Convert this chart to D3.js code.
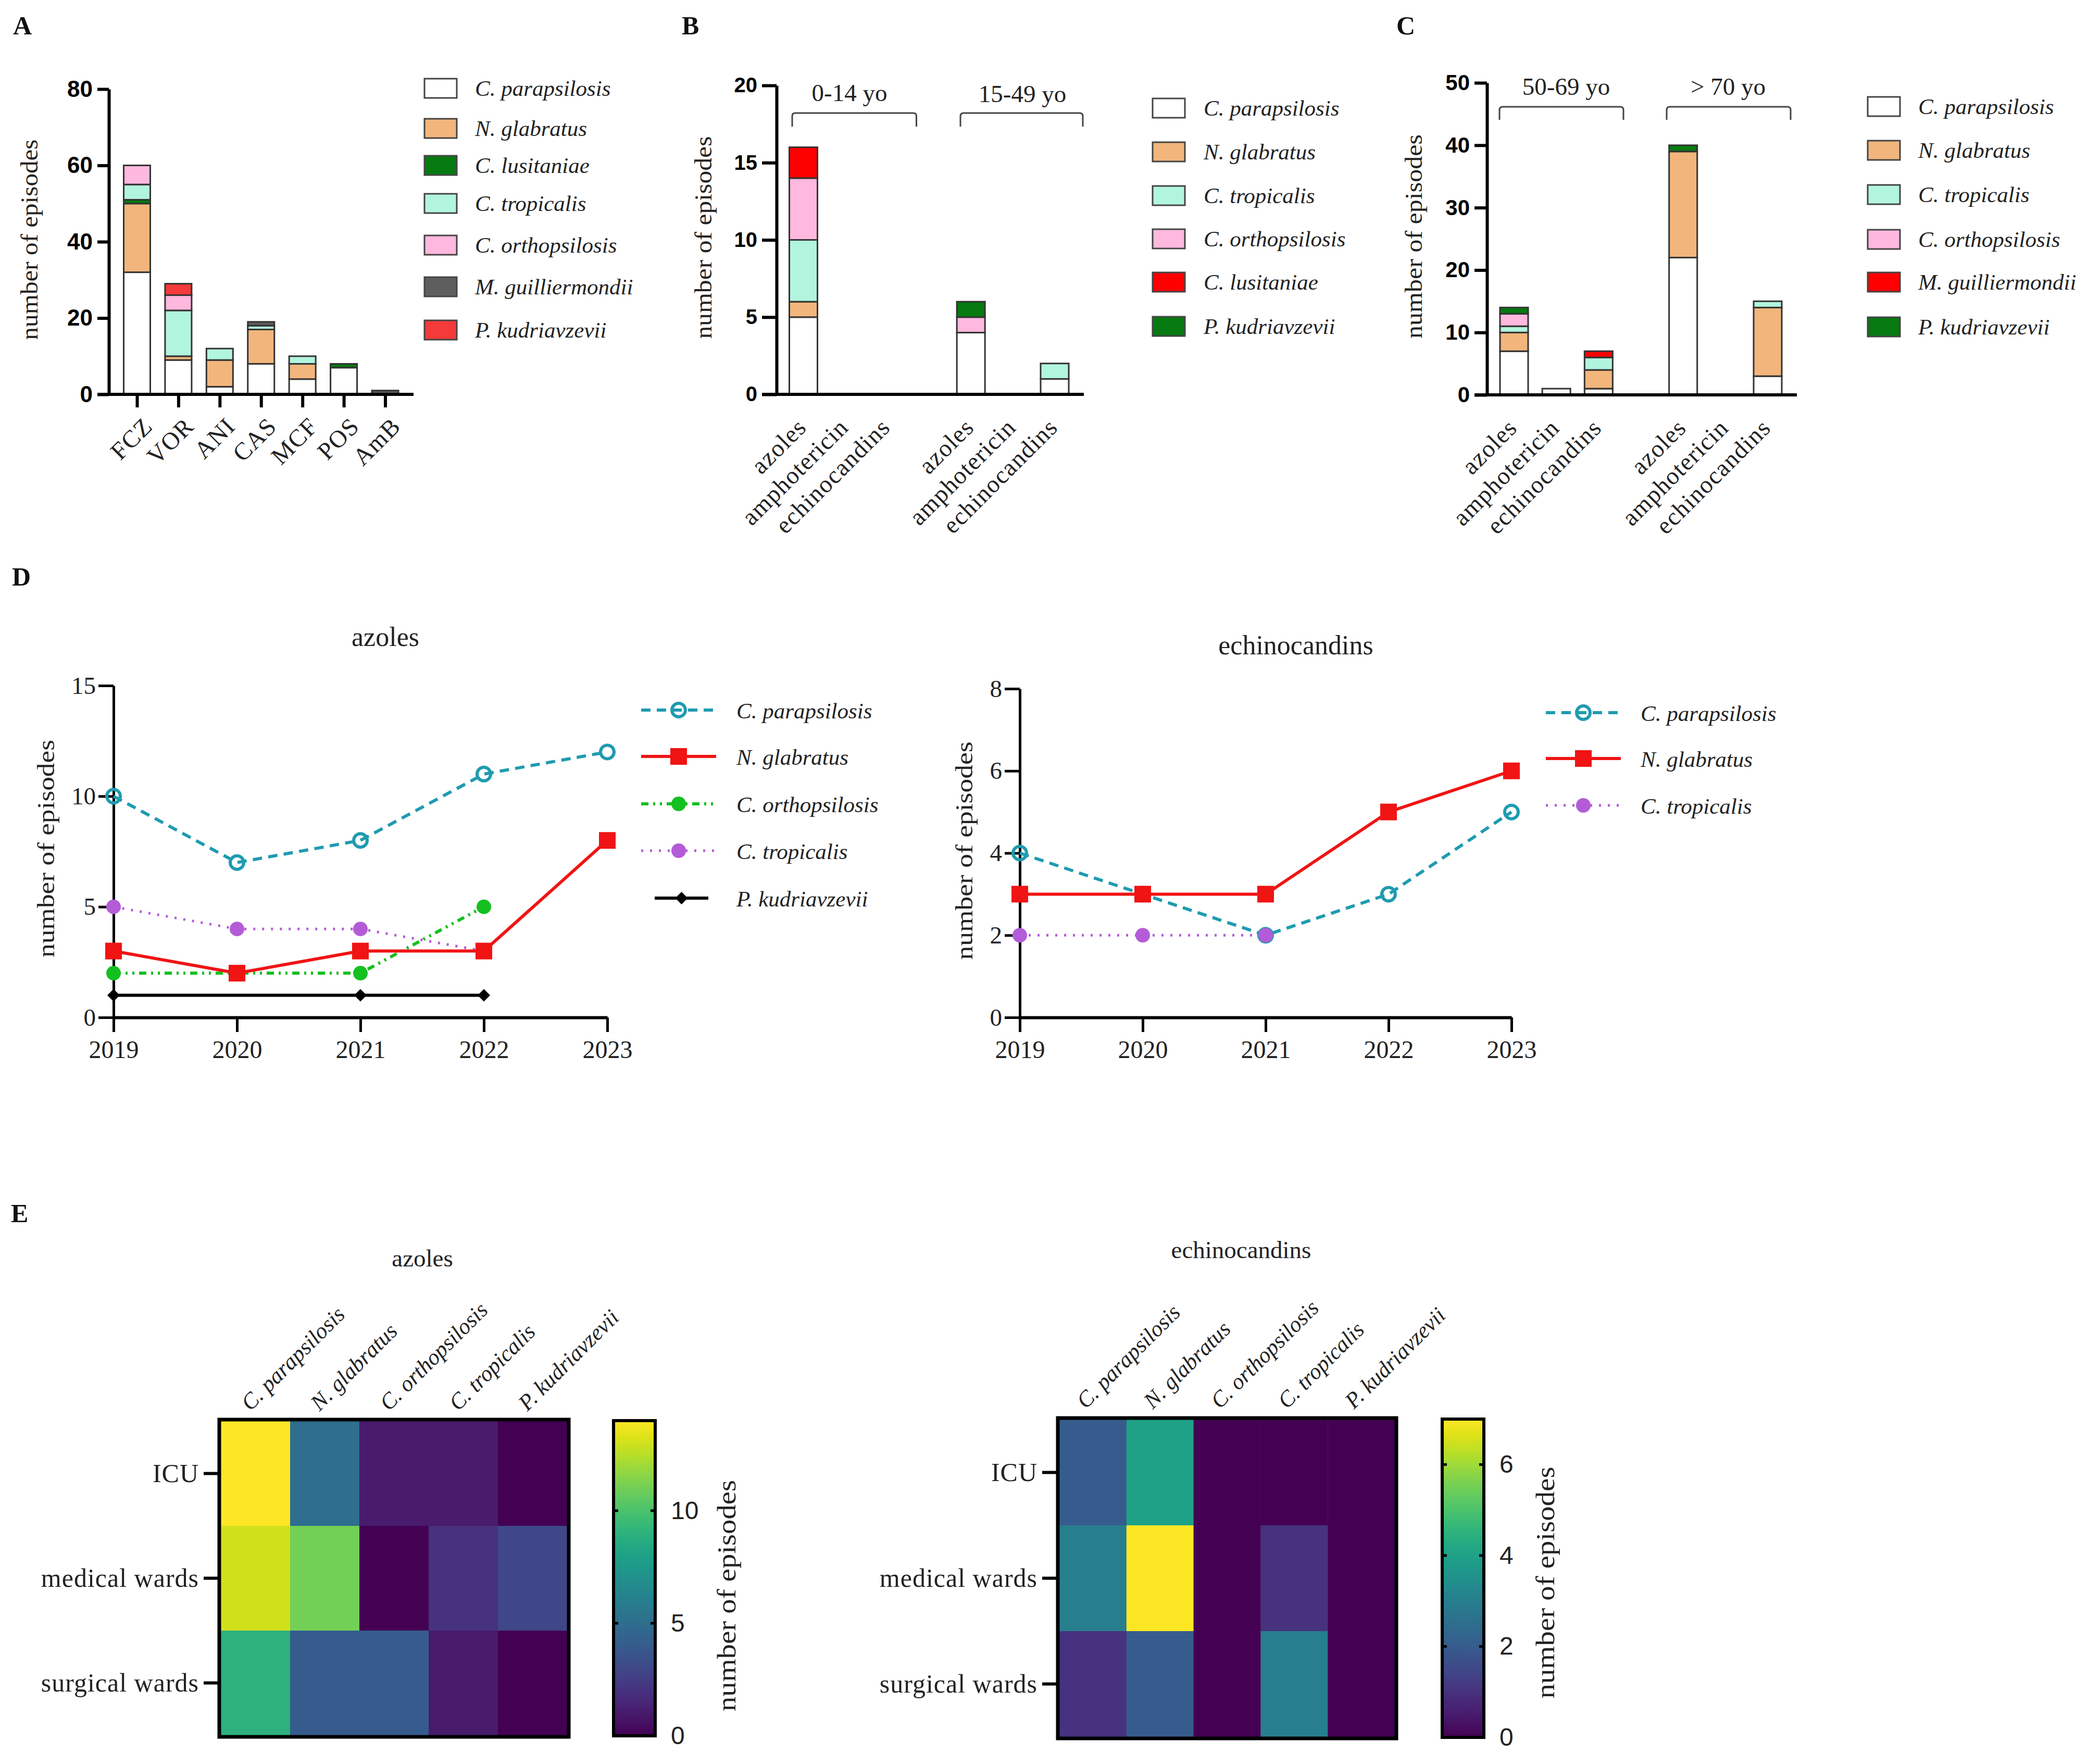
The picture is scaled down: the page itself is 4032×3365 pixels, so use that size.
<!DOCTYPE html>
<html>
<head>
<meta charset="utf-8" />
<style>
body { margin:0; background:#fff; }
text { font-family:"Liberation Serif",serif; fill:#222; }
.num text { font-family:"Liberation Sans",Arial,sans-serif; font-weight:bold; fill:#000; }
.domain, .tick line { stroke:#000; }
</style>
</head>
<body>
<svg id="plansza" width="4032" height="3365" xmlns="http://www.w3.org/2000/svg"></svg>
<script src="https://cdn.jsdelivr.net/npm/d3@7"></script>
<script>

// panel A
var aDrugs = ["FCZ","VOR","ANI","CAS","MCF","POS","AmB"];
var aSpecies = ["C. parapsilosis","N. glabratus","C. lusitaniae","C. tropicalis","C. orthopsilosis","M. guilliermondii","P. kudriavzevii"];
var aColors = ["#ffffff","#f2b67c","#067a10","#b2f5de","#ffb8de","#5e5e5e","#f43a3a"];
var aParapsilosis = [32,9,2,8,4,7,0];
var aGlabratus = [18,1,7,9,4,0,0];
var aLusitaniae = [1,0,0,0,0,1,0];
var aTropicalis = [4,12,3,1,2,0,0];
var aOrthopsilosis = [5,4,0,0,0,0,0];
var aGuilliermondii = [0,0,0,1,0,0,1];
var aKudriavzevii = [0,3,0,0,0,0,0];

// panel B and C share the drug classes
var classes = ["azoles","amphotericin","echinocandins"];
var bGroups = ["0-14 yo","15-49 yo"];
var bSpecies = ["C. parapsilosis","N. glabratus","C. tropicalis","C. orthopsilosis","C. lusitaniae","P. kudriavzevii"];
var bColors = ["#ffffff","#f2b67c","#b2f5de","#ffb8de","#ff0000","#067a10"];
var bParapsilosis = [5,0,0,4,0,1];
var bGlabratus = [1,0,0,0,0,0];
var bTropicalis = [4,0,0,0,0,1];
var bOrthopsilosis = [4,0,0,1,0,0];
var bLusitaniae = [2,0,0,0,0,0];
var bKudriavzevii = [0,0,0,1,0,0];

var cGroups = ["50-69 yo","> 70 yo"];
var cSpecies = ["C. parapsilosis","N. glabratus","C. tropicalis","C. orthopsilosis","M. guilliermondii","P. kudriavzevii"];
var cColors = ["#ffffff","#f2b67c","#b2f5de","#ffb8de","#ff0000","#067a10"];
var cParapsilosis = [7,1,1,22,0,3];
var cGlabratus = [3,0,3,17,0,11];
var cTropicalis = [1,0,2,0,0,1];
var cOrthopsilosis = [2,0,0,0,0,0];
var cGuilliermondii = [0,0,1,0,0,0];
var cKudriavzevii = [1,0,0,1,0,0];

// panel D
var years = [2019,2020,2021,2022,2023];
var dAzParapsilosis = [10,7,8,11,12];
var dAzGlabratus = [3,2,3,3,8];
var dAzOrthopsilosis = [2,2,2,5,null];
var dAzTropicalis = [5,4,4,3,null];
var dAzKudriavzevii = [1,null,1,1,null];
var dEcParapsilosis = [4,3,2,3,5];
var dEcGlabratus = [3,3,3,5,6];
var dEcTropicalis = [2,2,2,null,null];

// panel E
var wards = ["ICU","medical wards","surgical wards"];
var eSpecies = ["C. parapsilosis","N. glabratus","C. orthopsilosis","C. tropicalis","P. kudriavzevii"];
var eAzoles = [[14,5,1,1,0],[13,11,0,2,3],[9,4,4,1,0]];
var eEchino = [[2,4,0,0,0],[3,7,0,1,0],[1,2,0,3,0]];

var svg = d3.select("#plansza");
svg.append("rect").attr("width",4032).attr("height",3365).attr("fill","#fff");

var panelLabel = function(t,x,y) {
	svg.append("text").attr("x",x).attr("y",y).attr("font-size",50).attr("font-weight","bold").style("fill","#111").text(t);
}

var yTitle = function(x,yc,len,size) {
	svg.append("text")
		.attr("transform","translate("+x+","+yc+") rotate(-90)")
		.attr("text-anchor","middle")
		.attr("font-size",size)
		.attr("textLength",len)
		.attr("lengthAdjust","spacingAndGlyphs")
		.text("number of episodes");
}

var swatchLegend = function(names,colors,x0,rows,tx) {
	names.forEach(function(n,i) {
		svg.append("rect").attr("x",x0).attr("y",rows[i]-18).attr("width",62).attr("height",37)
			.attr("fill",colors[i]).attr("stroke","#444").attr("stroke-width",3);
		svg.append("text").attr("x",tx).attr("y",rows[i]+15).attr("font-size",43).attr("font-style","italic").text(n);
	});
}

// stacked bars, x is any scale giving the bar centre
var stackBars = function(keys,colors,series,slots,x,y,w) {
	var rows = slots.map(function(s,i) {
		var o = {slot:s};
		keys.forEach(function(k,j) { o[k] = series[j][i]; });
		return o;
	});
	var layers = d3.stack().keys(keys)(rows);
	layers.forEach(function(l,j) {
		svg.append("g").selectAll("rect")
			.data(l.filter(function(d) { return d[1] > d[0]; }))
			.enter().append("rect")
			.attr("x",function(d) { return x(d.data.slot)-w/2; })
			.attr("y",function(d) { return y(d[1]); })
			.attr("width",w)
			.attr("height",function(d) { return y(d[0])-y(d[1]); })
			.attr("fill",colors[j])
			.attr("stroke","#333")
			.attr("stroke-width",3);
	});
}

var yAxisNum = function(y,x,ticks,tickLen,size,fmtClass) {
	var g = svg.append("g").attr("class",fmtClass).attr("transform","translate("+x+",0)")
		.call(d3.axisLeft(y).tickValues(ticks).tickSize(tickLen).tickPadding(9).tickSizeOuter(0));
	g.select(".domain").attr("stroke-width",6);
	g.selectAll(".tick line").attr("stroke-width",6);
	g.selectAll("text").attr("font-size",size);
	return g;
}

var rotLabels = function(g,dx,dy) {
	g.selectAll("text")
		.attr("font-size",47)
		.attr("text-anchor","end")
		.attr("dy",0)
		.attr("y",0)
		.attr("transform","translate("+dx+","+dy+") rotate(-45)")
		.style("letter-spacing","1.5px");
}

var bracket = function(x0,x1,top,bottom,label,tx,ty) {
	svg.append("path").attr("d","M"+x0+","+bottom+"V"+(top+6)+"Q"+x0+","+top+" "+(x0+6)+","+top+"H"+(x1-6)+"Q"+x1+","+top+" "+x1+","+(top+6)+"V"+bottom)
		.attr("fill","none").attr("stroke","#444").attr("stroke-width",3);
	svg.append("text").attr("x",tx).attr("y",ty).attr("text-anchor","middle").attr("font-size",47).text(label);
}

/* ---- A ---- */
panelLabel("A",25,66);
var aY = d3.scaleLinear().domain([0,80]).range([757,171]);
var aX = d3.scalePoint().domain(aDrugs).range([263,739.5]);
stackBars(aSpecies,aColors,[aParapsilosis,aGlabratus,aLusitaniae,aTropicalis,aOrthopsilosis,aGuilliermondii,aKudriavzevii],aDrugs,aX,aY,51);
yAxisNum(aY,209,[0,20,40,60,80],22,44,"num");
var aXg = svg.append("g").attr("transform","translate(0,757)").call(d3.axisBottom(aX).tickSize(25).tickSizeOuter(0));
aXg.select(".domain").attr("d","M-22,0H585").attr("transform","translate(209,0)").attr("stroke-width",6);
aXg.selectAll(".tick line").attr("stroke-width",6);
rotLabels(aXg,32,64);
yTitle(72,460,385,46);
swatchLegend(aSpecies,aColors,815,[169,246,317,390,470,550,633],912);

/* ---- B ---- */
panelLabel("B",1309,66);
var slots = ["a0","a1","a2","gap","b0","b1","b2"];
var barSlots = ["a0","a1","a2","b0","b1","b2"];
var slotName = function(s) { return classes[+s[1]]; }

var bY = d3.scaleLinear().domain([0,20]).range([757,164]);
var bX = d3.scalePoint().domain(slots).range([1542.5,2025]);
stackBars(bSpecies,bColors,[bParapsilosis,bGlabratus,bTropicalis,bOrthopsilosis,bLusitaniae,bKudriavzevii],barSlots,bX,bY,54);
yAxisNum(bY,1491,[0,5,10,15,20],28,40,"num");
var bXg = svg.append("g").attr("transform","translate(0,757)").call(d3.axisBottom(bX).tickValues(barSlots).tickFormat(slotName).tickSize(0).tickSizeOuter(0));
bXg.select(".domain").attr("d","M1463,0H2081").attr("stroke-width",6);
rotLabels(bXg,8,66);
yTitle(1366,456,389,46);
bracket(1521,1759.5,217,243,bGroups[0],1631,194);
bracket(1844,2079,217,243,bGroups[1],1963,196);
swatchLegend(bSpecies,bColors,2213,[207,291,375,458,541,626],2311);

/* ---- C ---- */
panelLabel("C",2681,66);
var cY = d3.scaleLinear().domain([0,50]).range([758,159]);
var cX = d3.scalePoint().domain(slots).range([2907,3394]);
stackBars(cSpecies,cColors,[cParapsilosis,cGlabratus,cTropicalis,cOrthopsilosis,cGuilliermondii,cKudriavzevii],barSlots,cX,cY,54);
yAxisNum(cY,2855,[0,10,20,30,40,50],24,42,"num");
var cXg = svg.append("g").attr("transform","translate(0,758)").call(d3.axisBottom(cX).tickValues(barSlots).tickFormat(slotName).tickSize(0).tickSizeOuter(0));
cXg.select(".domain").attr("d","M2831,0H3450").attr("stroke-width",6);
rotLabels(cXg,8,66);
yTitle(2730,454,392,46);
bracket(2879,3117,205,230,cGroups[0],3007,182);
bracket(3200,3438,205,230,cGroups[1],3318,182);
swatchLegend(cSpecies,cColors,3586,[204,288,373,459,541,627],3683);

/* ---- D ---- */
panelLabel("D",23,1124);

var lineStyles = {
	"C. parapsilosis": {color:"#1f9bb0",dash:"18,12",w:6,shape:"ring"},
	"N. glabratus": {color:"#f01414",dash:null,w:6,shape:"square"},
	"C. orthopsilosis": {color:"#14c020",dash:"14,9,4,9,4,9",w:6,shape:"dot"},
	"C. tropicalis": {color:"#b45cd8",dash:"4,13",w:5,shape:"dot"},
	"P. kudriavzevii": {color:"#000",dash:null,w:6,shape:"diamond"}
};

var marker = function(g,st,x,y) {
	if (st.shape == "ring")
		g.append("circle").attr("cx",x).attr("cy",y).attr("r",13).attr("fill","none").attr("stroke",st.color).attr("stroke-width",6);
	else if (st.shape == "dot")
		g.append("circle").attr("cx",x).attr("cy",y).attr("r",14).attr("fill",st.color);
	else if (st.shape == "square")
		g.append("rect").attr("x",x-16).attr("y",y-16).attr("width",32).attr("height",32).attr("fill",st.color);
	else
		g.append("path").attr("d",d3.symbol(d3.symbolDiamond2,367)()).attr("transform","translate("+x+","+y+")").attr("fill",st.color);
}

var lineChart = function(names,vals,x,y,order) {
	order.forEach(function(i) {
		var st = lineStyles[names[i]];
		var pts = years.map(function(yr,k) { return {yr:yr,v:vals[i][k]}; });
		var g = svg.append("g");
		// a gap in the values is bridged, the marker is just left out
		g.append("path").attr("fill","none").attr("stroke",st.color).attr("stroke-width",st.w)
			.attr("stroke-dasharray",st.dash)
			.attr("d",d3.line().x(function(d) { return x(d.yr); }).y(function(d) { return y(d.v); })(pts.filter(function(d) { return d.v !== null; })));
		pts.forEach(function(d) {
			if (d.v !== null) marker(g,st,x(d.yr),y(d.v));
		});
	});
}

var lineLegend = function(names,x0,x1,rows,tx) {
	names.forEach(function(n,i) {
		var st = lineStyles[n];
		var g = svg.append("g");
		var a = x0, b = x1;
		if (st.shape == "diamond") { a = x0+26; b = x1-15; }
		g.append("line").attr("x1",a).attr("x2",b).attr("y1",rows[i]).attr("y2",rows[i])
			.attr("stroke",st.color).attr("stroke-width",st.w).attr("stroke-dasharray",st.dash);
		marker(g,st,(a+b)/2,rows[i]);
		svg.append("text").attr("x",tx).attr("y",rows[i]+16).attr("font-size",43).attr("font-style","italic").text(n);
	});
}

var lineAxes = function(x,y,yTicks,left,x1,y0,title,tx,ty) {
	var gy = svg.append("g").attr("transform","translate("+left+",0)")
		.call(d3.axisLeft(y).tickValues(yTicks).tickSize(29).tickPadding(5).tickSizeOuter(0));
	gy.select(".domain").attr("stroke-width",5);
	gy.selectAll(".tick line").attr("stroke-width",5);
	gy.selectAll("text").attr("font-size",47);
	var gx = svg.append("g").attr("transform","translate(0,"+y0+")")
		.call(d3.axisBottom(x).tickValues(years).tickFormat(d3.format("d")).tickSize(28).tickPadding(16).tickSizeOuter(0));
	gx.select(".domain").attr("stroke-width",6);
	gx.selectAll(".tick line").attr("stroke-width",5);
	gx.selectAll("text").attr("font-size",48);
	svg.append("text").attr("x",tx).attr("y",ty).attr("text-anchor","middle").attr("font-size",52).text(title);
}

var azNames = ["C. parapsilosis","N. glabratus","C. orthopsilosis","C. tropicalis","P. kudriavzevii"];
var dAzX = d3.scaleLinear().domain([2019,2023]).range([218,1166]);
var dAzY = d3.scaleLinear().domain([0,15]).range([1953,1316]);
lineAxes(dAzX,dAzY,[0,5,10,15],218,1166,1953,"azoles",740,1240);
lineChart(azNames,[dAzParapsilosis,dAzGlabratus,dAzOrthopsilosis,dAzTropicalis,dAzKudriavzevii],dAzX,dAzY,[0,3,2,4,1]);
yTitle(104,1629,418,46);
lineLegend(azNames,1231,1375,[1363,1452,1543,1633,1724],1414);

var ecNames = ["C. parapsilosis","N. glabratus","C. tropicalis"];
var dEcX = d3.scaleLinear().domain([2019,2023]).range([1958,2902]);
var dEcY = d3.scaleLinear().domain([0,8]).range([1953,1322]);
lineAxes(dEcX,dEcY,[0,2,4,6,8],1958,2902,1953,"echinocandins",2488,1256);
lineChart(ecNames,[dEcParapsilosis,dEcGlabratus,dEcTropicalis],dEcX,dEcY,[0,1,2]);
yTitle(1867,1633,419,46);
lineLegend(ecNames,2968,3112,[1368,1456,1546],3150);

/* ---- E ---- */
panelLabel("E",21,2346);

var heatmap = function(vals,maxV,box,cb,ticks,title,tx,ty,labY,tlx,tly) {
	var color = d3.scaleSequential(d3.interpolateViridis).domain([0,maxV]);
	var x = d3.scaleBand().domain(eSpecies).range([box.x0,box.x1]);
	var y = d3.scaleBand().domain(wards).range([box.y0,box.y1]);
	wards.forEach(function(w,r) {
		svg.append("g").selectAll("rect").data(vals[r]).enter().append("rect")
			.attr("x",function(d,i) { return x(eSpecies[i]); })
			.attr("y",y(w))
			.attr("width",x.bandwidth()+.5)
			.attr("height",y.bandwidth()+.5)
			.attr("fill",function(d) { return color(d); });
	});
	svg.append("rect").attr("x",box.x0-3).attr("y",box.y0-3).attr("width",box.x1-box.x0+6).attr("height",box.y1-box.y0+6)
		.attr("fill","none").attr("stroke","#000").attr("stroke-width",7);
	var gy = svg.append("g").attr("transform","translate("+(box.x0-6)+",0)")
		.call(d3.axisLeft(y).tickSize(27).tickPadding(9).tickSizeOuter(0));
	gy.select(".domain").remove();
	gy.selectAll(".tick line").attr("stroke-width",6);
	gy.selectAll("text").attr("font-size",50).style("letter-spacing","1px");
	eSpecies.forEach(function(s) {
		svg.append("text")
			.attr("transform","translate("+(x(s)+x.bandwidth()/2+tlx)+","+tly+") rotate(-45)")
			.attr("font-size",43).attr("font-style","italic").text(s);
	});
	svg.append("text").attr("x",tx).attr("y",ty).attr("text-anchor","middle").attr("font-size",47).text(title);

	// colour bar
	var id = "grad"+maxV;
	var grad = svg.append("defs").append("linearGradient").attr("id",id).attr("x1",0).attr("x2",0).attr("y1",1).attr("y2",0);
	d3.range(0,1.001,.05).forEach(function(t) {
		grad.append("stop").attr("offset",t).attr("stop-color",d3.interpolateViridis(t));
	});
	var cy = d3.scaleLinear().domain([0,maxV]).range([cb.y1,cb.y0]);
	svg.append("rect").attr("x",cb.x0).attr("y",cb.y0).attr("width",cb.x1-cb.x0).attr("height",cb.y1-cb.y0)
		.attr("fill","url(#"+id+")").attr("stroke","#000").attr("stroke-width",6);
	var ga = svg.append("g").attr("transform","translate("+cb.x1+",0)")
		.call(d3.axisRight(cy).tickValues(ticks).tickFormat(d3.format("d")).tickSize(0).tickPadding(30).tickSizeOuter(0));
	ga.select(".domain").remove();
	ga.selectAll("text").attr("font-size",48).style("font-family","'Liberation Sans',Arial,sans-serif");
	ticks.forEach(function(t) {
		if (t == 0) return;
		svg.append("line").attr("x1",cb.x0).attr("x2",cb.x0+9).attr("y1",cy(t)).attr("y2",cy(t)).attr("stroke","#000").attr("stroke-width",5);
		svg.append("line").attr("x1",cb.x1-9).attr("x2",cb.x1).attr("y1",cy(t)).attr("y2",cy(t)).attr("stroke","#000").attr("stroke-width",5);
	});
	yTitle(labY.x,labY.y,labY.len,50);
}

heatmap(eAzoles,14,{x0:424,x1:1089,y0:2728,y1:3331},{x0:1178,x1:1258,y0:2727,y1:3332},[0,5,10],"azoles",811,2431,{x:1412,y:3063,len:444},-10,2710);
heatmap(eEchino,7,{x0:2034,x1:2678,y0:2725,y1:3334},{x0:2769,x1:2849,y0:2724,y1:3335},[0,2,4,6],"echinocandins",2383,2415,{x:2984,y:3038,len:445},-14,2706);

</script>
</body>
</html>
